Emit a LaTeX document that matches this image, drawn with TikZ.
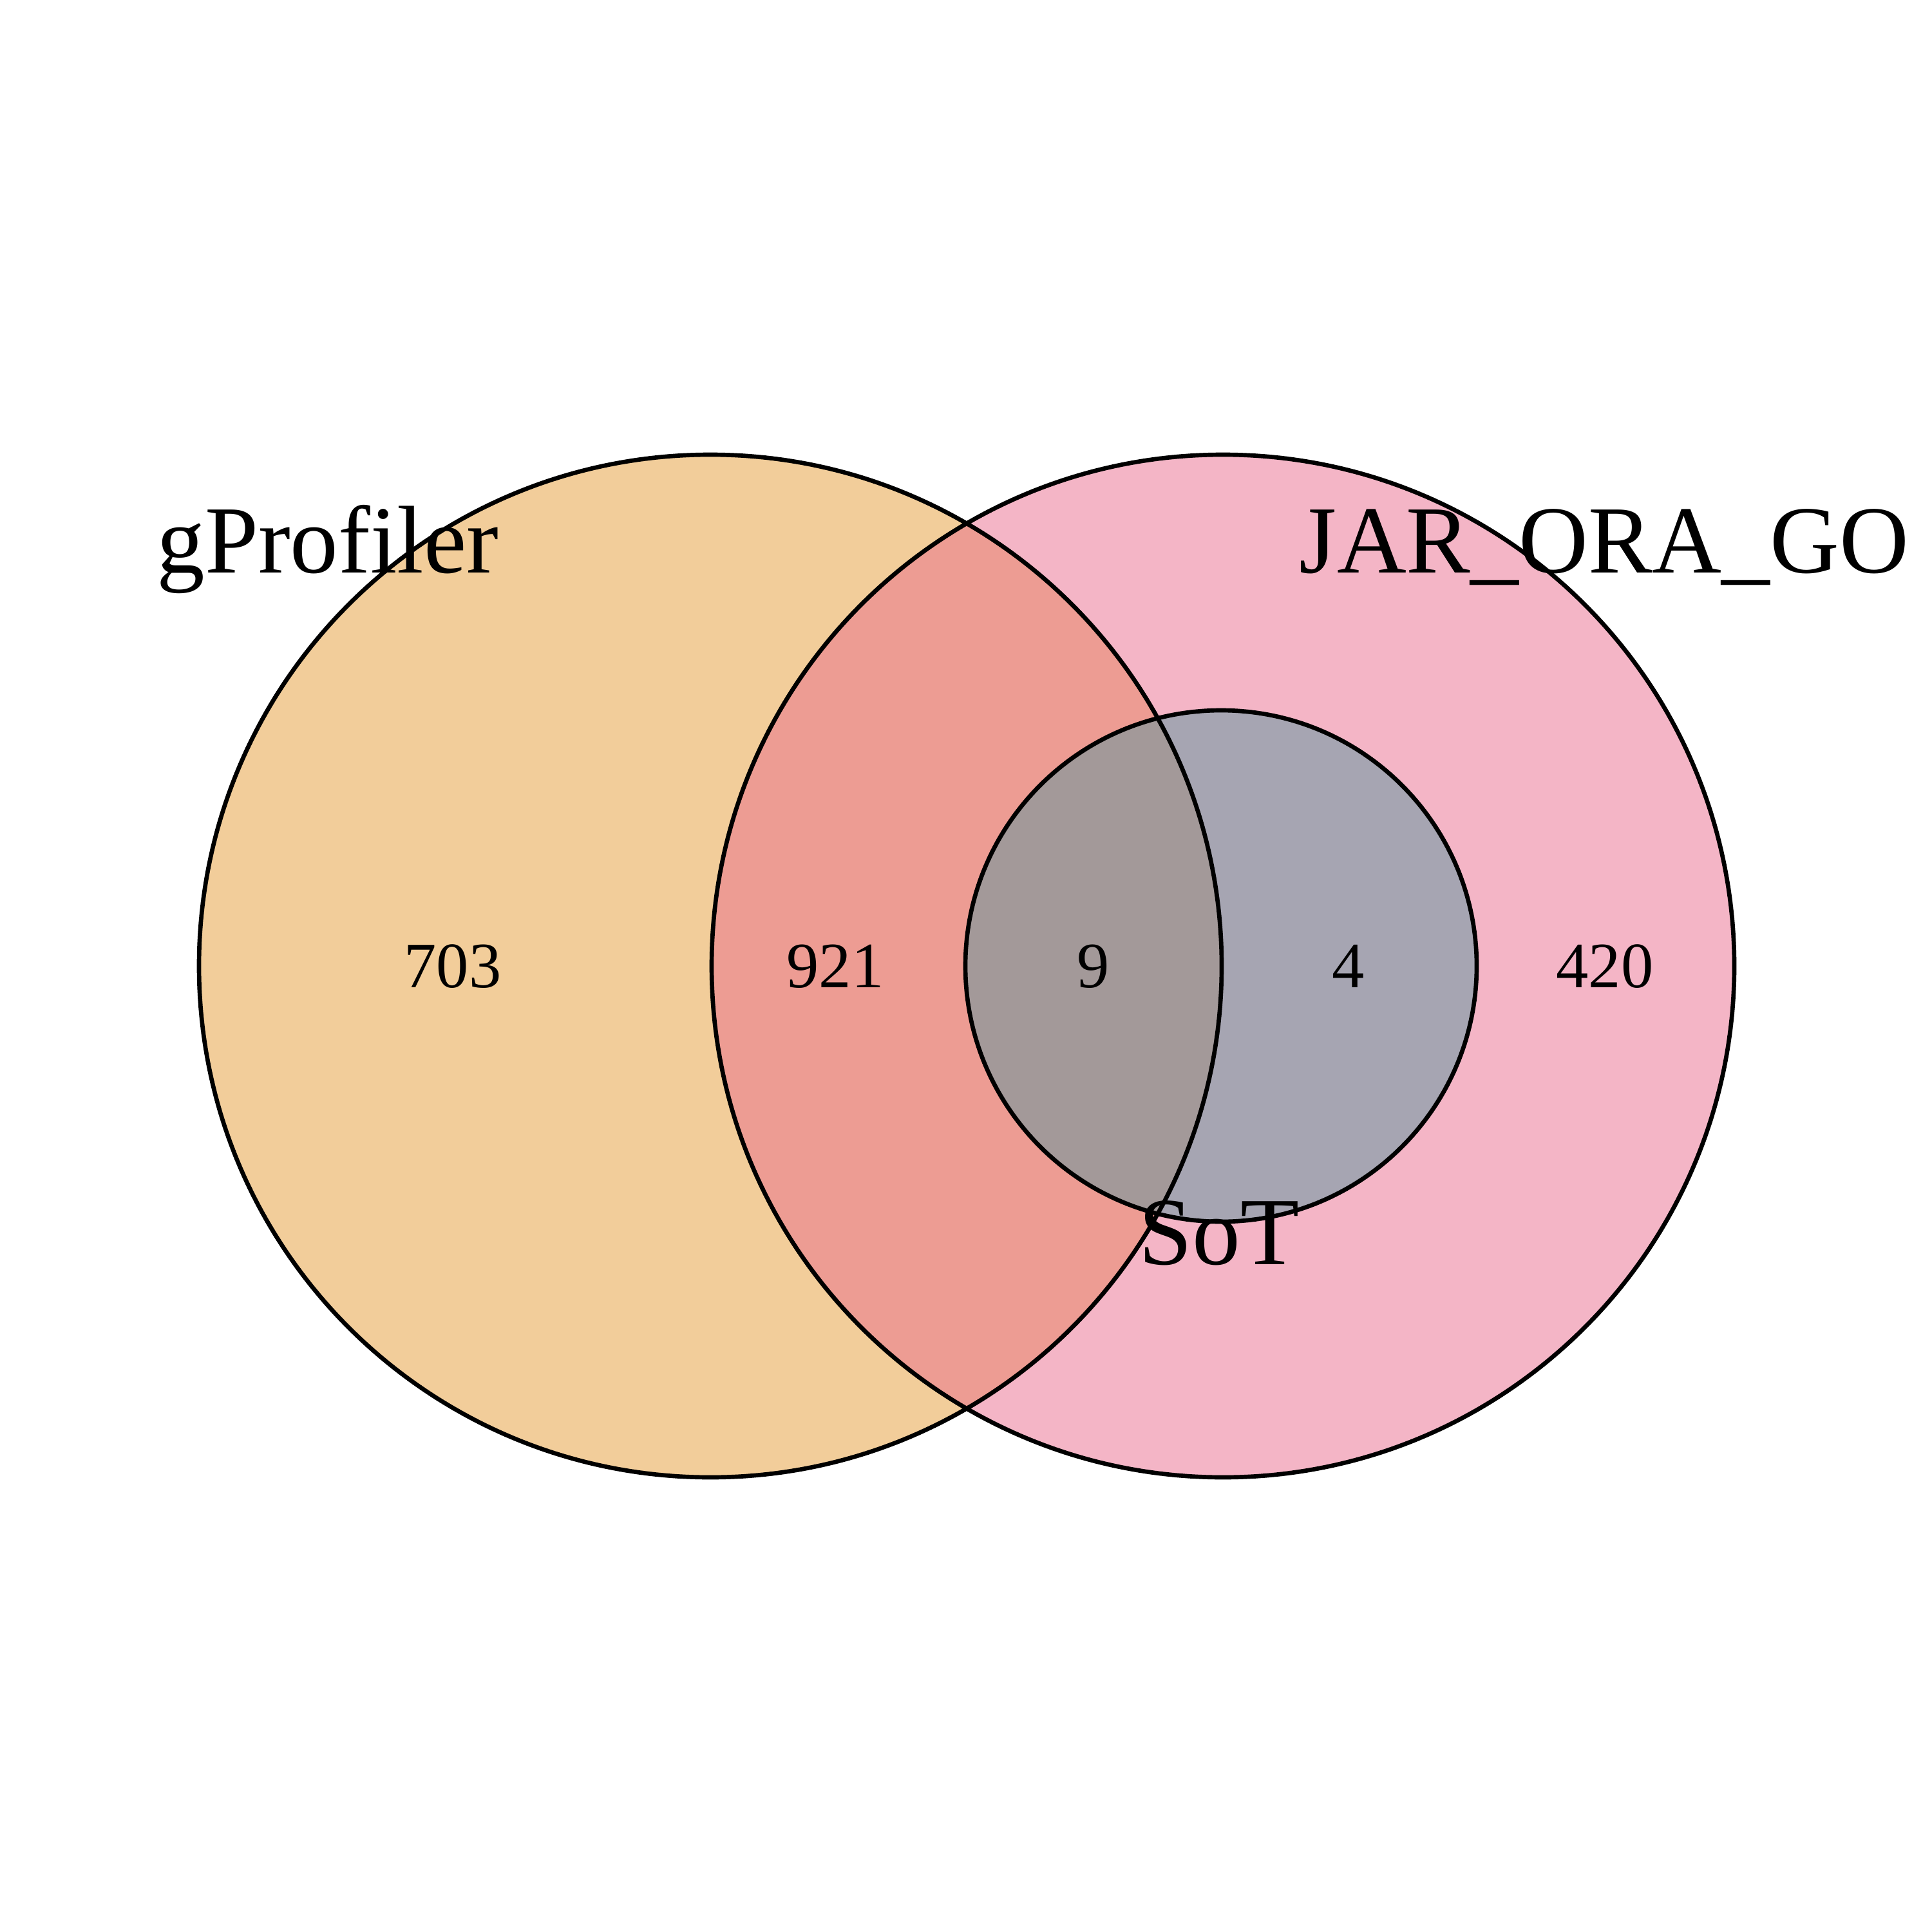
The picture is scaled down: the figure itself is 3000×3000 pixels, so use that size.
\documentclass[tikz,border=0pt]{standalone}
\usepackage{fontspec}
\setmainfont{Liberation Serif}
\definecolor{gpcol}{RGB}{229,155,53}
\definecolor{jarcol}{RGB}{233,107,141}
\definecolor{sotcol}{RGB}{90,151,160}
\begin{document}
\begin{tikzpicture}[x=0.1mm, y=-0.1mm, set/.style = {circle, inner sep=0pt, fill opacity=0.5}, ring/.style = {draw, circle, inner sep=0pt, line width=1.9pt}, big/.style = {minimum size=158.8mm}, small/.style = {minimum size=79.4mm}, count/.style = {anchor=base, font=\fontsize{28.6}{30}\selectfont}, setname/.style = {anchor=base, font=\fontsize{42.5}{45}\selectfont}]

		\useasboundingbox (0,0) rectangle (3000,3000);

		\node[set, big, fill=gpcol] (gp) at (1103,1500) {};
		\node[set, big, fill=jarcol] (jar) at (1899,1500) {};
		\node[set, small, fill=sotcol] (sot) at (1896,1500) {};

		\node[ring, big] (gpring) at (gp) {};
		\node[ring, big] (jarring) at (jar) {};
		\node[ring, small] (sotring) at (sot) {};

		\node[count] (n1) at (703,1533) {703};
		\node[count] (n2) at (1297,1533) {921};
		\node[count] (n3) at (1698,1533) {9};
		\node[count] (n4) at (2094,1533) {4};
		\node[count] (n5) at (2492,1533) {420};

		\node[setname] (gpname) at (509,889) {gProfiler};
		\node[setname] (jarname) at (2491,889) {JAR\_ORA\_GO};
		\node[setname] (sotname) at (1893,1963) {SoT};
	\end{tikzpicture}
\end{document}
